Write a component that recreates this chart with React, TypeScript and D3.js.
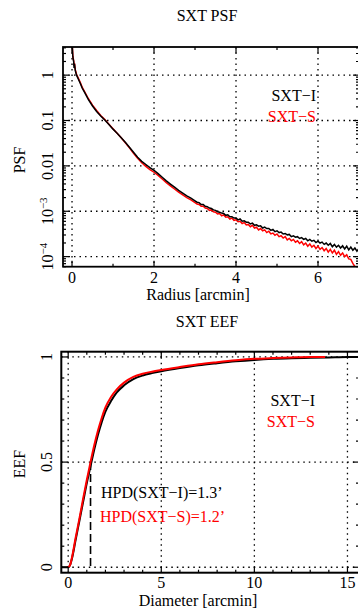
import * as d3 from 'd3'

// PSF profile, radius in arcmin, values given as log10(PSF)
const psfRadius = [
  0, 0.02, 0.04, 0.05, 0.06, 0.08, 0.11, 0.15, 0.2, 0.25, 0.3, 0.4, 0.5, 0.6, 0.7, 0.8, 0.9,
  1.0, 1.1, 1.2, 1.3, 1.4, 1.5, 1.6, 1.7, 1.8, 1.9, 2.0, 2.1, 2.2, 2.3, 2.4, 2.5, 2.6, 2.7, 2.8, 2.9,
  3.0, 3.05, 3.1, 3.15, 3.2, 3.25, 3.3, 3.35, 3.4, 3.45, 3.5, 3.55, 3.6, 3.65, 3.7, 3.75, 3.8, 3.85, 3.9, 3.95,
  4.0, 4.05, 4.1, 4.15, 4.2, 4.25, 4.3, 4.35, 4.4, 4.45, 4.5, 4.55, 4.6, 4.65, 4.7, 4.75, 4.8, 4.85, 4.9, 4.95,
  5.0, 5.05, 5.1, 5.15, 5.2, 5.25, 5.3, 5.35, 5.4, 5.45, 5.5, 5.55, 5.6, 5.65, 5.7, 5.75, 5.8, 5.85, 5.9, 5.95,
  6.0, 6.05, 6.1, 6.15, 6.2, 6.25, 6.3, 6.35, 6.4, 6.45, 6.5, 6.55, 6.6, 6.65, 6.7, 6.75, 6.8, 6.85, 6.9, 6.95, 7.0,
]
const psfLogI = [
  0.75, 0.4, 0.3, 0.16, 0.25, 0.1, 0.0, -0.08, -0.18, -0.29, -0.37, -0.54, -0.68, -0.8, -0.9, -0.99, -1.09,
  -1.19, -1.28, -1.38, -1.48, -1.59, -1.7, -1.81, -1.9, -1.97, -2.04, -2.1, -2.17, -2.25, -2.33, -2.4, -2.47, -2.54, -2.6, -2.66, -2.71,
  -2.77, -2.8, -2.81, -2.85, -2.85, -2.89, -2.9, -2.93, -2.94, -2.97, -2.98, -3.01, -3.02, -3.04, -3.05, -3.09, -3.08, -3.12, -3.12, -3.15,
  -3.15, -3.19, -3.17, -3.22, -3.21, -3.24, -3.24, -3.28, -3.26, -3.31, -3.3, -3.33, -3.32, -3.37, -3.35, -3.38, -3.38, -3.42, -3.4, -3.45,
  -3.43, -3.47, -3.46, -3.5, -3.49, -3.52, -3.51, -3.56, -3.54, -3.57, -3.56, -3.6, -3.58, -3.62, -3.6, -3.65, -3.62, -3.66, -3.64, -3.69,
  -3.66, -3.7, -3.68, -3.73, -3.7, -3.75, -3.71, -3.78, -3.73, -3.79, -3.75, -3.81, -3.76, -3.83, -3.77, -3.85, -3.79, -3.86, -3.81, -3.88, -3.82,
]
const psfLogS = [
  0.75, 0.42, 0.32, 0.2, 0.26, 0.12, 0.02, -0.06, -0.16, -0.27, -0.35, -0.52, -0.66, -0.78, -0.89, -0.98, -1.08,
  -1.18, -1.28, -1.38, -1.49, -1.6, -1.72, -1.83, -1.93, -2.01, -2.08, -2.14, -2.21, -2.29, -2.37, -2.44, -2.51, -2.58, -2.64, -2.7, -2.75,
  -2.81, -2.84, -2.85, -2.89, -2.89, -2.93, -2.94, -2.98, -2.97, -3.01, -3.02, -3.06, -3.05, -3.1, -3.08, -3.13, -3.12, -3.17, -3.15, -3.2,
  -3.19, -3.23, -3.22, -3.27, -3.25, -3.3, -3.29, -3.34, -3.31, -3.37, -3.35, -3.41, -3.38, -3.43, -3.41, -3.47, -3.44, -3.5, -3.48, -3.53,
  -3.5, -3.56, -3.54, -3.59, -3.56, -3.63, -3.6, -3.65, -3.62, -3.68, -3.65, -3.71, -3.67, -3.74, -3.7, -3.77, -3.72, -3.79, -3.75, -3.82,
  -3.77, -3.84, -3.8, -3.87, -3.82, -3.9, -3.84, -3.92, -3.86, -3.95, -3.89, -3.97, -3.92, -4.0, -3.96, -4.05, -4.06, -4.15, -4.22, -4.4, -4.6,
]

// Encircled energy fraction vs diameter [arcmin]
const eefDiamI = [-0.37, 0, 0.1, 0.2, 0.4, 0.6, 0.8, 1.0, 1.2, 1.4, 1.6, 1.8, 2.0, 2.3, 2.6, 3.0, 3.5, 4.0, 4.5, 5, 6, 7, 8, 9, 10, 11, 12, 13, 14, 15, 15.62]
const eefI = [0, 0, 0.01, 0.04, 0.13, 0.22, 0.31, 0.4, 0.48, 0.56, 0.63, 0.69, 0.74, 0.79, 0.83, 0.865, 0.895, 0.912, 0.923, 0.932, 0.947, 0.96, 0.97, 0.979, 0.986, 0.991, 0.994, 0.996, 0.998, 1.0, 1.0]
const eefDiamS = [0, 0.1, 0.2, 0.4, 0.6, 0.8, 1.0, 1.2, 1.4, 1.6, 1.8, 2.0, 2.3, 2.6, 3.0, 3.5, 4.0, 4.5, 5, 6, 7, 8, 9, 10, 11, 12, 13, 13.8]
const eefS = [0, 0.01, 0.045, 0.14, 0.23, 0.325, 0.415, 0.5, 0.58, 0.65, 0.71, 0.76, 0.81, 0.845, 0.878, 0.905, 0.92, 0.93, 0.938, 0.952, 0.965, 0.975, 0.984, 0.991, 0.995, 0.998, 1.0, 1.0]
const hpd = 1.2

const psfXTicks = [0, 2, 4, 6]
const psfXMinor = [1, 3, 5]
const psfYTicks = [1, 0.1, 0.01, 1e-3, 1e-4]
const eefXTicks = [0, 5, 10, 15]
const eefXMinor = [1, 2, 3, 4, 6, 7, 8, 9, 11, 12, 13, 14]
const eefYTicks = [0, 0.5, 1]
const eefYMinor = [0.1, 0.2, 0.3, 0.4, 0.6, 0.7, 0.8, 0.9]

const FONT = '"Liberation Serif", "Times New Roman", serif'
const RED = '#ff0000'

export default function App() {
  const W = 358, H = 613

  // top panel
  const x1 = d3.scaleLinear().domain([-0.22, 7.0]).range([63, 359])
  const y1 = d3.scaleLog().domain([6.0e-5, 4.17]).range([266.7, 47])
  const t1 = { l: 63, r: 359, t: 47, b: 266.7 }
  const y1Minor = y1.ticks().filter((v) => Math.abs(Math.log10(v) - Math.round(Math.log10(v))) > 1e-6)

  // bottom panel
  const x2 = d3.scaleLinear().domain([-0.37, 15.62]).range([61.3, 359])
  const y2 = d3.scaleLinear().domain([-0.026, 1.025]).range([572.7, 351.7])
  const t2 = { l: 61.3, r: 359, t: 351.7, b: 572.7 }

  const psfLine = (logs: number[]) =>
    d3.line<number>().x((_, i) => x1(psfRadius[i])).y((v) => y1(Math.pow(10, v)))(logs) || ''
  const eefLine = (xs: number[], ys: number[]) =>
    d3.line<number>().x((_, i) => x2(xs[i])).y((v) => y2(v)).curve(d3.curveMonotoneX)(ys) || ''

  const dot = { stroke: '#000', strokeWidth: 1.3, strokeDasharray: '1.5,4' }
  const txt = { fontFamily: FONT, fontSize: 16 }

  const vTicks = (xs: number[], x: (v: number) => number, box: typeof t1, len: number) =>
    xs.map((v) => (
      <g key={'v' + v + len}>
        <line x1={x(v)} x2={x(v)} y1={box.b} y2={box.b - len} stroke="#000" strokeWidth={1.2} />
        <line x1={x(v)} x2={x(v)} y1={box.t} y2={box.t + len} stroke="#000" strokeWidth={1.2} />
      </g>
    ))
  const hTicks = (ys: number[], y: (v: number) => number, box: typeof t1, len: number) =>
    ys.map((v) => (
      <g key={'h' + v + len}>
        <line x1={box.l} x2={box.l + len} y1={y(v)} y2={y(v)} stroke="#000" strokeWidth={1.2} />
        <line x1={box.r} x2={box.r - len} y1={y(v)} y2={y(v)} stroke="#000" strokeWidth={1.2} />
      </g>
    ))

  return (
    <svg width={W} height={H} style={{ position: 'absolute', left: 0, top: 0, background: '#fff' }}>
      <defs>
        <clipPath id="c1"><rect x={t1.l} y={t1.t} width={t1.r - t1.l} height={t1.b - t1.t} /></clipPath>
        <clipPath id="c2"><rect x={t2.l} y={t2.t} width={t2.r - t2.l} height={t2.b - t2.t} /></clipPath>
      </defs>

      {/* ---------- PSF ---------- */}
      <text x={207} y={21} textAnchor="middle" {...txt}>SXT PSF</text>
      {psfXTicks.map((v) => (
        <line key={'g1x' + v} x1={x1(v)} x2={x1(v)} y1={t1.t} y2={t1.b} {...dot} />
      ))}
      {psfYTicks.map((v) => (
        <line key={'g1y' + v} x1={t1.l} x2={t1.r} y1={y1(v)} y2={y1(v)} {...dot} />
      ))}
      <g clipPath="url(#c1)" fill="none">
        <path d={psfLine(psfLogS)} stroke={RED} strokeWidth={1.5} />
        <path d={psfLine(psfLogI)} stroke="#000" strokeWidth={1.5} />
      </g>
      {vTicks(psfXTicks, x1, t1, 6)}
      {vTicks(psfXMinor, x1, t1, 3)}
      {hTicks(psfYTicks, y1, t1, 6)}
      {hTicks(y1Minor, y1, t1, 3)}
      <rect x={t1.l} y={t1.t} width={t1.r - t1.l} height={t1.b - t1.t} fill="none" stroke="#000" strokeWidth={1.8} />
      {psfXTicks.map((v) => (
        <text key={'l1x' + v} x={x1(v)} y={283} textAnchor="middle" {...txt}>{v}</text>
      ))}
      {psfYTicks.map((v) => {
        const e = Math.round(Math.log10(v))
        return (
          <text key={'l1y' + v} transform={`translate(53,${y1(v)}) rotate(-90)`} textAnchor="middle" {...txt}>
            {e >= -2 ? String(v) : (<><tspan>10</tspan><tspan dy={-6} fontSize={11}>{'\u2212' + -e}</tspan></>)}
          </text>
        )
      })}
      <text x={198} y={300} textAnchor="middle" {...txt}>Radius [arcmin]</text>
      <text transform="translate(25,160) rotate(-90)" textAnchor="middle" {...txt}>PSF</text>
      <text x={316} y={101} textAnchor="end" {...txt}>SXT−I</text>
      <text x={316} y={122} textAnchor="end" fill={RED} {...txt}>SXT−S</text>

      {/* ---------- EEF ---------- */}
      <text x={207} y={327} textAnchor="middle" {...txt}>SXT EEF</text>
      {eefXTicks.map((v) => (
        <line key={'g2x' + v} x1={x2(v)} x2={x2(v)} y1={t2.t} y2={t2.b} {...dot} />
      ))}
      {eefYTicks.map((v) => (
        <line key={'g2y' + v} x1={t2.l} x2={t2.r} y1={y2(v)} y2={y2(v)} {...dot} />
      ))}
      <line x1={x2(hpd)} x2={x2(hpd)} y1={y2(0.5)} y2={y2(0)} stroke="#000" strokeWidth={1.6} strokeDasharray="8,4" />
      <g clipPath="url(#c2)" fill="none">
        <path d={eefLine(eefDiamI, eefI)} stroke="#000" strokeWidth={2} />
        <path d={eefLine(eefDiamS, eefS)} stroke={RED} strokeWidth={2} />
      </g>
      {vTicks(eefXTicks, x2, t2, 6)}
      {vTicks(eefXMinor, x2, t2, 3)}
      {hTicks(eefYTicks, y2, t2, 6)}
      {hTicks(eefYMinor, y2, t2, 3)}
      <rect x={t2.l} y={t2.t} width={t2.r - t2.l} height={t2.b - t2.t} fill="none" stroke="#000" strokeWidth={2} />
      {eefXTicks.map((v) => (
        <text key={'l2x' + v} x={x2(v)} y={588} textAnchor="middle" {...txt}>{v}</text>
      ))}
      {eefYTicks.map((v) => (
        <text key={'l2y' + v} transform={`translate(52,${y2(v)}) rotate(-90)`} textAnchor="middle" {...txt}>{v}</text>
      ))}
      <text x={198} y={606} textAnchor="middle" {...txt}>Diameter [arcmin]</text>
      <text transform="translate(25,464) rotate(-90)" textAnchor="middle" {...txt}>EEF</text>
      <text x={315} y={406} textAnchor="end" {...txt}>SXT−I</text>
      <text x={315} y={427} textAnchor="end" fill={RED} {...txt}>SXT−S</text>
      <text x={101} y={498} {...txt}>HPD(SXT−I)=1.3’</text>
      <text x={100} y={522} fill={RED} {...txt}>HPD(SXT−S)=1.2’</text>
    </svg>
  )
}
